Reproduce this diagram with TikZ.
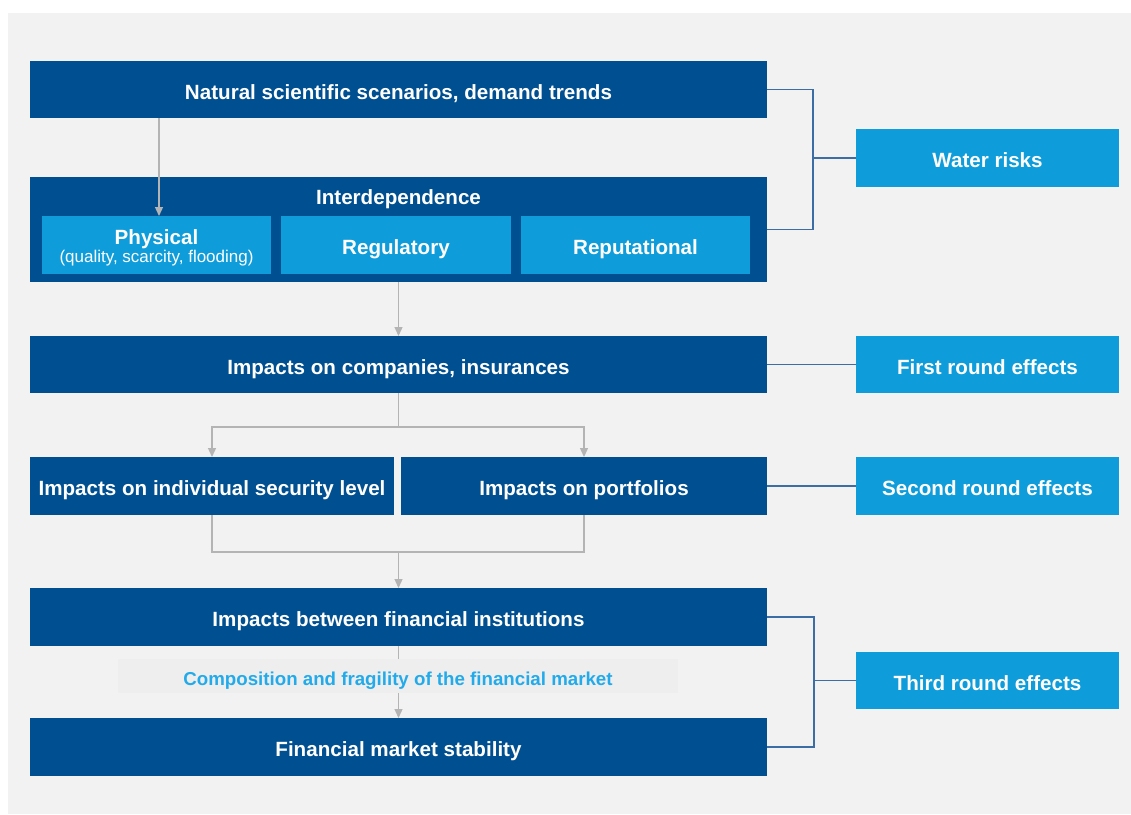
\documentclass[tikz,border=0pt]{standalone}
\usepackage{fontspec}
\setmainfont{Liberation Sans}
\usetikzlibrary{arrows.meta}
\definecolor{dkblue}{HTML}{005091}
\definecolor{ltblue}{HTML}{0E9DDA}
\definecolor{bandtext}{HTML}{22AAEA}
\definecolor{arrgrey}{HTML}{B4B4B4}
\definecolor{brblue}{HTML}{3C6EA5}
\definecolor{panel}{HTML}{F2F2F2}
\definecolor{bandfill}{HTML}{EEEEEE}
\tikzset{
  base/.style={inner sep=0pt, outer sep=0pt, align=center, text=white,
    text height=19.8pt, text depth=0pt,
    font=\bfseries\fontsize{20.6}{24}\selectfont},
  dkbox/.style={base, fill=dkblue},
  ltbox/.style={base, fill=ltblue},
  arr/.style={draw=arrgrey, line width=1.3pt, -{Triangle[width=8pt,length=9pt]}},
  gline/.style={draw=arrgrey, line width=1.3pt},
  brk/.style={draw=brblue, line width=1.6pt},
}
\begin{document}
\begin{tikzpicture}[x=1pt,y=-1pt]
\useasboundingbox (0,0) rectangle (1131,814);
\fill[white] (0,0) rectangle (1131,814);
\fill[panel] (8,13) rectangle (1131,814);

% left column
\node[dkbox, minimum width=737pt, minimum height=57pt] (top) at (398.5,89.5) {Natural scientific scenarios, demand trends};
\node[dkbox, minimum width=737pt, minimum height=105pt] (inter) at (398.5,229.5) {};
\node[base] (interlbl) at (398.5,194.5) {Interdependence};
\node[ltbox, minimum width=229pt, minimum height=58pt] (phys) at (156.5,245) {};
\node[base] (physlbl) at (156.5,234.5) {Physical};
\node[base, text height=12pt, text depth=3pt, font=\fontsize{17}{20}\selectfont] (physsub) at (156.5,258) {(quality, scarcity, flooding)};
\node[ltbox, minimum width=230pt, minimum height=58pt] (reg) at (396,245) {Regulatory};
\node[ltbox, minimum width=229pt, minimum height=58pt] (rep) at (635.5,245) {Reputational};

\node[dkbox, minimum width=737pt, minimum height=57pt] (comp) at (398.5,364.5) {Impacts on companies, insurances};
\node[dkbox, minimum width=364pt, minimum height=58pt] (indiv) at (212,486) {Impacts on individual security level};
\node[dkbox, minimum width=366pt, minimum height=58pt] (port) at (584,486) {Impacts on portfolios};
\node[dkbox, minimum width=737pt, minimum height=58pt] (betw) at (398.5,617) {Impacts between financial institutions};
\node[dkbox, minimum width=737pt, minimum height=58pt] (stab) at (398.5,747) {Financial market stability};

% right column
\node[ltbox, minimum width=263pt, minimum height=58pt] (water) at (987.5,158) {Water risks};
\node[ltbox, minimum width=263pt, minimum height=57pt] (first) at (987.5,364.5) {First round effects};
\node[ltbox, minimum width=263pt, minimum height=58pt] (second) at (987.5,486) {Second round effects};
\node[ltbox, minimum width=263pt, minimum height=57pt] (third) at (987.5,680.5) {Third round effects};

% grey connectors
\coordinate (a1) at (159,118);
\draw[arr] (top.south -| a1) -- (phys.north -| a1);
\draw[arr] (inter.south) -- (comp.north);
\coordinate (split) at (398.5,427);
\draw[gline] (comp.south) -- (split);
\draw[arr] (split) -| (indiv.north);
\draw[arr] (split) -| (port.north);
\coordinate (join) at (398.5,552);
\draw[gline] (indiv.south) |- (join) -| (port.south);
\draw[arr] (join) -- (betw.north);
\draw[arr] (betw.south) -- (stab.north);

% composition band
\node[base, fill=bandfill, text=bandtext, minimum width=560pt, minimum height=34pt,
  font=\bfseries\fontsize{18.7}{22}\selectfont] (band) at (398,676) {Composition and fragility of the financial market};

% brackets
\coordinate (b1) at (813,158);
\draw[brk] (top.east) -| (b1) |- (inter.east);
\draw[brk] (b1) -- (water.west);
\draw[brk] (comp.east) -- (first.west);
\draw[brk] (port.east) -- (second.west);
\coordinate (b3) at (814,680.5);
\draw[brk] (betw.east) -| (b3) |- (stab.east);
\draw[brk] (b3) -- (third.west);
\end{tikzpicture}
\end{document}
